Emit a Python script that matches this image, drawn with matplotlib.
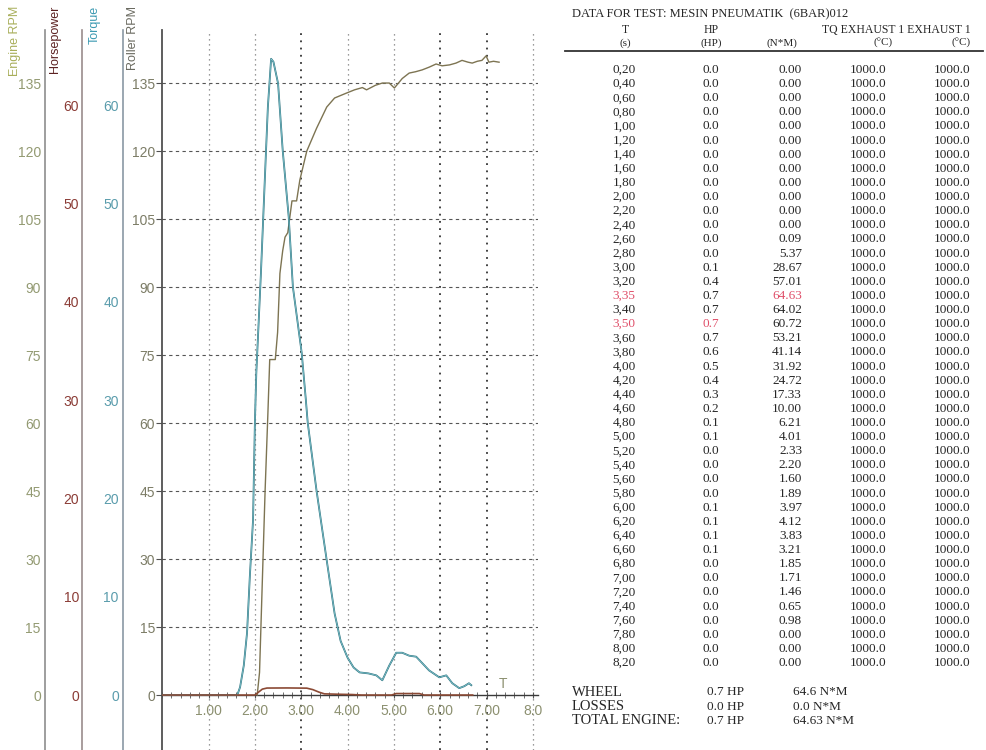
import matplotlib
matplotlib.use("Agg")
import matplotlib.pyplot as plt
from matplotlib.ticker import FixedLocator, MultipleLocator

# ── curve data (time axis in s) ────────────────────────────────────────────
torque_t = [0.0, 1.62, 1.68, 1.76, 1.83, 1.89, 1.96, 2.00, 2.03, 2.13, 2.22, 2.28,
            2.35, 2.40, 2.50, 2.60, 2.73, 2.82, 3.01, 3.10, 3.14, 3.33, 3.55, 3.72,
            3.85, 4.00, 4.13, 4.26, 4.45, 4.62, 4.75, 4.90, 5.05, 5.18, 5.33, 5.48,
            5.62, 5.76, 5.98, 6.13, 6.26, 6.41, 6.52, 6.62, 6.67]
torque_v = [0.0, 0.0, 0.8, 3.0, 6.3, 12.0, 17.8, 27.7, 32.7, 42.9, 53.1, 59.8,
            64.7, 64.4, 62.2, 55.4, 48.6, 41.5, 34.8, 30.0, 27.7, 20.8, 13.7, 8.3,
            5.5, 3.8, 2.8, 2.3, 2.2, 2.0, 1.5, 3.0, 4.3, 4.3, 4.0, 3.9,
            3.2, 2.5, 1.8, 2.0, 1.2, 0.7, 0.9, 1.2, 1.0]

hp_t = [0.0, 2.00, 2.08, 2.16, 2.26, 2.70, 3.12, 3.25, 3.38, 3.50, 3.80, 4.10,
        4.30, 4.95, 5.05, 5.55, 5.65, 6.70]
hp_v = [0.0, 0.0, 0.3, 0.6, 0.71, 0.72, 0.70, 0.55, 0.3, 0.12, 0.08, 0.05,
        0.0, 0.0, 0.15, 0.15, 0.0, 0.0]

roller_t = [2.05, 2.10, 2.16, 2.22, 2.28, 2.32, 2.44, 2.49, 2.54, 2.60, 2.65, 2.71,
            2.80, 2.90, 2.97, 3.12, 3.33, 3.55, 3.72, 3.98, 4.15, 4.32, 4.41, 4.60,
            4.75, 4.90, 5.01, 5.18, 5.33, 5.47, 5.61, 5.76, 5.91, 6.04, 6.20, 6.34,
            6.47, 6.60, 6.69, 6.80, 6.90, 6.99, 7.05, 7.15, 7.27]
roller_v = [0.0, 5.0, 25.0, 45.0, 62.0, 74.0, 74.0, 80.0, 93.0, 98.0, 101.0, 102.0,
            109.0, 109.0, 113.6, 120.0, 125.0, 129.7, 131.7, 132.8, 133.5, 134.0, 133.5, 134.5,
            135.0, 135.0, 133.9, 136.0, 137.2, 137.5, 137.9, 138.5, 139.2, 138.8, 139.0, 139.4,
            140.0, 139.6, 139.4, 139.8, 140.0, 141.0, 139.6, 139.8, 139.6]

rpm_ticks = [0, 15, 30, 45, 60, 75, 90, 105, 120, 135]
hp_ticks = [0, 10, 20, 30, 40, 50, 60]
x_ticks = [1, 2, 3, 4, 5, 6, 7, 8]
x_labels = ["1.00", "2.00", "3.00", "4.00", "5.00", "6.00", "7.00", "8.0"]

# ── table data ─────────────────────────────────────────────────────────────
title_txt = "DATA FOR TEST: MESIN PNEUMATIK  (6BAR)012"
tbl_t = [0.20, 0.40, 0.60, 0.80, 1.00, 1.20, 1.40, 1.60, 1.80, 2.00, 2.20, 2.40,
         2.60, 2.80, 3.00, 3.20, 3.35, 3.40, 3.50, 3.60, 3.80, 4.00, 4.20, 4.40,
         4.60, 4.80, 5.00, 5.20, 5.40, 5.60, 5.80, 6.00, 6.20, 6.40, 6.60, 6.80,
         7.00, 7.20, 7.40, 7.60, 7.80, 8.00, 8.20]
tbl_hp = [0.0, 0.0, 0.0, 0.0, 0.0, 0.0, 0.0, 0.0, 0.0, 0.0, 0.0, 0.0,
          0.0, 0.0, 0.1, 0.4, 0.7, 0.7, 0.7, 0.7, 0.6, 0.5, 0.4, 0.3,
          0.2, 0.1, 0.1, 0.0, 0.0, 0.0, 0.0, 0.1, 0.1, 0.1, 0.1, 0.0,
          0.0, 0.0, 0.0, 0.0, 0.0, 0.0, 0.0]
tbl_tq = [0.00, 0.00, 0.00, 0.00, 0.00, 0.00, 0.00, 0.00, 0.00, 0.00, 0.00, 0.00,
          0.09, 5.37, 28.67, 57.01, 64.63, 64.02, 60.72, 53.21, 41.14, 31.92, 24.72, 17.33,
          10.00, 6.21, 4.01, 2.33, 2.20, 1.60, 1.89, 3.97, 4.12, 3.83, 3.21, 1.85,
          1.71, 1.46, 0.65, 0.98, 0.00, 0.00, 0.00]
tbl_exh1 = [1000.0] * 43
tbl_exh2 = [1000.0] * 43
red_t_rows = [16, 18]     # 3,35 and 3,50
red_tq_rows = [16]
red_hp_rows = [18]

hdr_top = ["T", "HP", "TQ EXHAUST 1 EXHAUST 1"]
hdr_units = ["(s)", "(HP)", "(N*M)", "(°C)", "(°C)"]

sum_names = ["WHEEL", "LOSSES", "TOTAL ENGINE:"]
sum_hp = ["0.7 HP", "0.0 HP", "0.7 HP"]
sum_tq = ["64.6 N*M", "0.0 N*M", "64.63 N*M"]

# ── figure ─────────────────────────────────────────────────────────────────
W, H = 986, 750
fig = plt.figure(figsize=(W / 100, H / 100), dpi=100)
fig.patch.set_facecolor("white")
SANS = "Liberation Sans"
SERIF = "Liberation Serif"


def fx(x):
    return x / W


def fy(y):
    return 1 - y / H


RPM_LIM = (-12.13, 146.7)
HP_LIM = (-5.59, 67.63)
AX_TOP = fy(30)

# main plot (roller rpm scale)
ax = fig.add_axes([fx(162), 0, fx(538) - fx(162), AX_TOP])
ax.set_xlim(-0.005, 8.11)
ax.set_ylim(*RPM_LIM)
for sp in ("top", "right"):
    ax.spines[sp].set_visible(False)
ax.spines["left"].set_color("#505050")
ax.spines["left"].set_linewidth(1.3)
ax.spines["bottom"].set_position(("data", 0))
ax.spines["bottom"].set_color("#3a3a3a")
ax.spines["bottom"].set_linewidth(1.0)

ax.set_yticks(rpm_ticks)
ax.tick_params(axis="y", length=4, color="#505050", labelsize=10,
               labelcolor="#7c7c66", pad=1)
for lbl in ax.get_yticklabels():
    lbl.set_family(SANS)
ax.xaxis.set_major_locator(FixedLocator(x_ticks))
ax.set_xticklabels(x_labels)
ax.xaxis.set_minor_locator(MultipleLocator(0.2))
ax.tick_params(axis="x", which="both", direction="inout", length=5,
               color="#555555", labelsize=10, labelcolor="#8c9070", pad=4)
for lbl in ax.get_xticklabels():
    lbl.set_family(SANS)

# grid
for v in rpm_ticks[1:]:
    ax.axhline(v, color="#555555", lw=0.8, ls=(0, (3, 3)), zorder=1)
for t in x_ticks:
    heavy = t in (3, 6, 7)
    ax.axvline(t, color="#333333" if heavy else "#7a7a7a",
               lw=1.3 if heavy else 0.9, ls=(0, (1, 3)), zorder=1)

ax.plot(roller_t, roller_v, color="#7d7452", lw=1.0, zorder=3)
ax.text(7.35, 0.8, "T", color="#8c9070", fontsize=10, family=SANS,
        ha="center", va="bottom")

# torque / hp share the same scale
ax2 = fig.add_axes(ax.get_position(), frameon=False)
ax2.set_xlim(ax.get_xlim())
ax2.set_ylim(*HP_LIM)
ax2.set_xticks([])
ax2.set_yticks([])
ax2.plot(torque_t, torque_v, color="#2f7480", lw=1.3, zorder=3)
ax2.plot(torque_t, torque_v, color="#8fd3dc", lw=0.45, zorder=4)
ax2.plot(hp_t, hp_v, color="#8b4a35", lw=1.2, zorder=4)


# ── extra left axes ────────────────────────────────────────────────────────
def side_axis(xpix, ylim, ticks, tcolor, scolor, pad):
    a = fig.add_axes([fx(xpix), 0, 0.0005, AX_TOP], facecolor="none")
    a.set_ylim(*ylim)
    a.set_xticks([])
    for sp in ("top", "right", "bottom"):
        a.spines[sp].set_visible(False)
    a.spines["left"].set_color(scolor)
    a.spines["left"].set_linewidth(1.2)
    a.set_yticks(ticks)
    a.tick_params(axis="y", length=0, labelsize=10, labelcolor=tcolor, pad=pad)
    for lbl in a.get_yticklabels():
        lbl.set_family(SANS)
    return a


side_axis(45, RPM_LIM, rpm_ticks, "#939a72", "#8e8e8e", 3)
side_axis(82, HP_LIM, hp_ticks, "#8b3c36", "#9a8c8c", 2)
side_axis(123, HP_LIM, hp_ticks, "#5a9cac", "#8a98a4", 3)

for xpix, name, col in [(15, "Engine RPM", "#a8ae5a"), (55, "Horsepower", "#5c2222"),
                        (95, "Torque", "#3c9ab2"), (133, "Roller RPM", "#6a6a60")]:
    fig.text(fx(xpix), fy(6), name, rotation=90, ha="center", va="top",
             color=col, fontsize=9, family=SANS)

# ── data table ─────────────────────────────────────────────────────────────
INK = "#262626"
RED = "#e0506a"
fig.text(fx(572), fy(14), title_txt, fontsize=9, family=SERIF, color=INK,
         va="center", ha="left")

hdr1_y, hdr2_y = 30, 43
fig.text(fx(625), fy(hdr1_y), hdr_top[0], fontsize=8.5, family=SERIF, color=INK,
         ha="center", va="center")
fig.text(fx(711), fy(hdr1_y), hdr_top[1], fontsize=8.5, family=SERIF, color=INK,
         ha="center", va="center")
fig.text(fx(971), fy(hdr1_y), hdr_top[2], fontsize=8.5, family=SERIF, color=INK,
         ha="right", va="center")
for xpix, ha, txt in zip([625, 711, 797, 893, 971],
                         ["center", "center", "right", "right", "right"], hdr_units):
    fig.text(fx(xpix), fy(hdr2_y), txt, fontsize=8, family=SERIF, color=INK,
             ha=ha, va="center")
fig.add_artist(plt.Line2D([fx(565), fx(983)], [fy(51), fy(51)], color="#333333", lw=1.3))

FS = 9.5
for i, (t, hp, tq, e1, e2) in enumerate(zip(tbl_t, tbl_hp, tbl_tq, tbl_exh1, tbl_exh2)):
    y = fy(70 + i * 14.12)
    fig.text(fx(624), y, f"{t:.2f}".replace(".", ","), fontsize=FS, family=SERIF,
             color=RED if i in red_t_rows else INK, ha="center", va="center")
    fig.text(fx(711), y, f"{hp:.1f}", fontsize=FS, family=SERIF,
             color=RED if i in red_hp_rows else INK, ha="center", va="center")
    fig.text(fx(802), y, f"{tq:.2f}", fontsize=FS, family=SERIF,
             color=RED if i in red_tq_rows else INK, ha="right", va="center")
    fig.text(fx(886), y, f"{e1:.1f}", fontsize=FS, family=SERIF, color=INK,
             ha="right", va="center")
    fig.text(fx(970), y, f"{e2:.1f}", fontsize=FS, family=SERIF, color=INK,
             ha="right", va="center")

for i, (nm, hp, tq) in enumerate(zip(sum_names, sum_hp, sum_tq)):
    y = fy(692 + i * 14.5)
    fig.text(fx(572), y, nm, fontsize=10.5, family=SERIF, color=INK, ha="left", va="center")
    fig.text(fx(707), y, hp, fontsize=9.5, family=SERIF, color=INK, ha="left", va="center")
    fig.text(fx(793), y, tq, fontsize=9.5, family=SERIF, color=INK, ha="left", va="center")

fig.savefig("out.png", dpi=100, facecolor="white")
